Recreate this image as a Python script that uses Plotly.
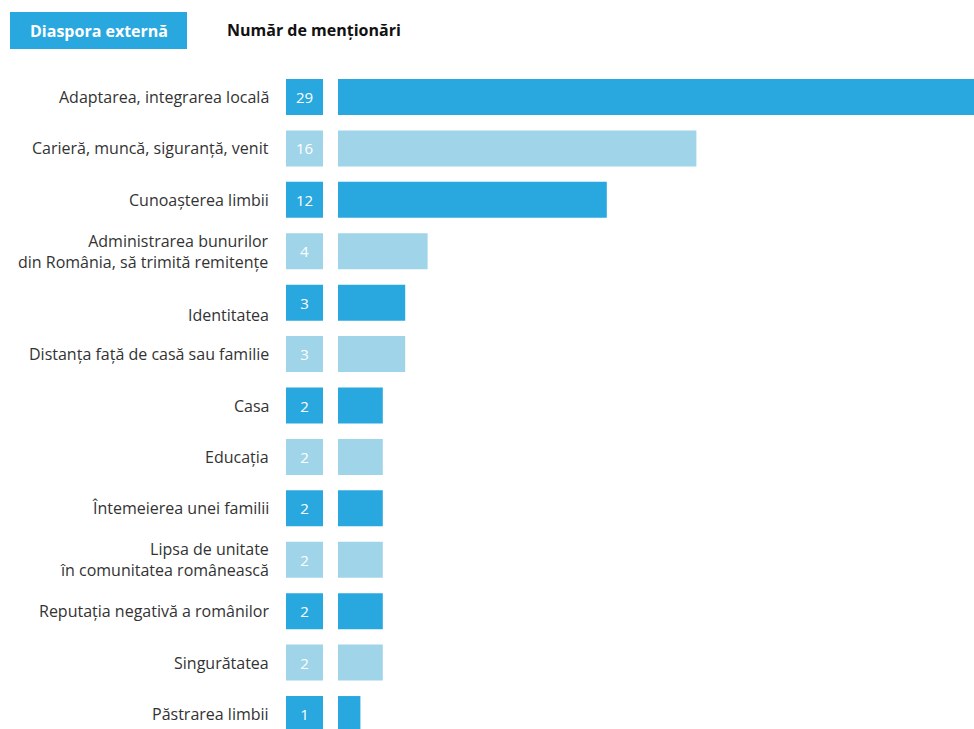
import plotly.graph_objects as go

categories = [
    "Adaptarea, integrarea locală",
    "Carieră, muncă, siguranță, venit",
    "Cunoașterea limbii",
    "Administrarea bunurilor<br>din România, să trimită remitențe",
    "Identitatea",
    "Distanța față de casă sau familie",
    "Casa",
    "Educația",
    "Întemeierea unei familii",
    "Lipsa de unitate<br>în comunitatea românească",
    "Reputația negativă a românilor",
    "Singurătatea",
    "Păstrarea limbii",
]
values = [29, 16, 12, 4, 3, 3, 2, 2, 2, 2, 2, 2, 1]

DARK = "#29a8e0"
LIGHT = "#a0d4e9"
colors = [DARK if i % 2 == 0 else LIGHT for i in range(len(values))]
rows = list(range(len(values)))

W, H = 974, 729
FONT = "Open Sans"

fig = go.Figure()

# value boxes
fig.add_trace(go.Bar(
    x=[1] * len(values), y=rows, orientation="h",
    xaxis="x2", yaxis="y",
    marker=dict(color=colors, line=dict(width=0)),
    width=0.7,
    text=[str(v) for v in values],
    textposition="inside", insidetextanchor="middle", textangle=0,
    textfont=dict(family=FONT, size=15, color="white"),
    hoverinfo="skip", showlegend=False,
))

# main bars
fig.add_trace(go.Bar(
    x=values, y=rows, orientation="h",
    xaxis="x", yaxis="y",
    marker=dict(color=colors, line=dict(width=0)),
    width=0.7,
    hoverinfo="skip", showlegend=False,
))

annotations = []
for i, c in enumerate(categories):
    annotations.append(dict(
        x=271 / W, xref="paper", y=i, yref="y",
        text=c, showarrow=False, xanchor="right", yanchor="middle",
        align="right", yshift=-12 if c == "Identitatea" else 0,
        font=dict(family=FONT, size=16, color="#333333"),
    ))

annotations.append(dict(
    x=98.5 / W, xref="paper", y=1 - 30.5 / H, yref="paper",
    text="<b>Diaspora externă</b>", showarrow=False,
    xanchor="center", yanchor="middle",
    font=dict(family=FONT, size=16, color="white"),
))
annotations.append(dict(
    x=225 / W, xref="paper", y=1 - 30 / H, yref="paper",
    text="<b>Număr de menționări</b>", showarrow=False,
    xanchor="left", yanchor="middle",
    font=dict(family=FONT, size=16, color="#111111"),
))

pitch = 51.42
y_top = -97 / pitch
y_bottom = (H - 97) / pitch

fig.update_layout(
    width=W, height=H,
    margin=dict(l=0, r=0, t=0, b=0),
    paper_bgcolor="white", plot_bgcolor="white",
    xaxis=dict(domain=[338 / W, 1], range=[0, (W - 338) / 22.4],
               visible=False, fixedrange=True),
    xaxis2=dict(domain=[286 / W, 323 / W], range=[0, 1], anchor="y",
                visible=False, fixedrange=True),
    yaxis=dict(range=[y_bottom, y_top], visible=False, fixedrange=True),
    shapes=[dict(type="rect", xref="paper", yref="paper",
                 x0=10 / W, x1=187 / W, y0=1 - 49 / H, y1=1 - 12 / H,
                 fillcolor=DARK, line=dict(width=0), layer="below")],
    annotations=annotations,
    barmode="overlay",
    showlegend=False,
)

fig.write_html(
    "out.html",
    config={"displayModeBar": False},
    post_script="document.body.style.margin='0';document.body.style.overflow='hidden';",
)
